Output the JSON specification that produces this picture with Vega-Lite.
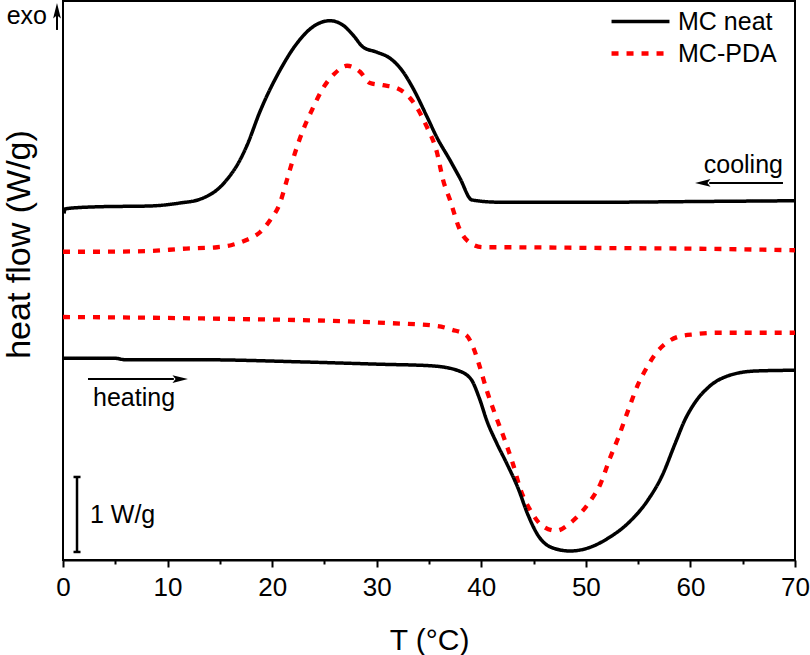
{
  "$schema": "https://vega.github.io/schema/vega-lite/v6.json",
  "width": 732,
  "height": 559,
  "autosize": {"type": "none"},
  "padding": {"left": 63, "top": 1, "right": 15, "bottom": 95},
  "background": "white",
  "config": {
    "font": "Liberation Sans",
    "view": {"stroke": "black", "strokeWidth": 2}
  },
  "datasets": {
    "curves": [
      {"sample": "MC neat", "run": "cool", "T": 0.1, "hf": 4.62},
      {"sample": "MC neat", "run": "cool", "T": 0.19, "hf": 4.68},
      {"sample": "MC neat", "run": "cool", "T": 0.67, "hf": 4.69},
      {"sample": "MC neat", "run": "cool", "T": 3.54, "hf": 4.71},
      {"sample": "MC neat", "run": "cool", "T": 8.32, "hf": 4.72},
      {"sample": "MC neat", "run": "cool", "T": 11.19, "hf": 4.76},
      {"sample": "MC neat", "run": "cool", "T": 13.1, "hf": 4.81},
      {"sample": "MC neat", "run": "cool", "T": 15.01, "hf": 4.97},
      {"sample": "MC neat", "run": "cool", "T": 15.95, "hf": 5.12},
      {"sample": "MC neat", "run": "cool", "T": 16.8, "hf": 5.3},
      {"sample": "MC neat", "run": "cool", "T": 17.6, "hf": 5.53},
      {"sample": "MC neat", "run": "cool", "T": 18.84, "hf": 5.98},
      {"sample": "MC neat", "run": "cool", "T": 20.75, "hf": 6.53},
      {"sample": "MC neat", "run": "cool", "T": 22.38, "hf": 6.89},
      {"sample": "MC neat", "run": "cool", "T": 23.91, "hf": 7.11},
      {"sample": "MC neat", "run": "cool", "T": 25.53, "hf": 7.19},
      {"sample": "MC neat", "run": "cool", "T": 26.78, "hf": 7.13},
      {"sample": "MC neat", "run": "cool", "T": 27.73, "hf": 7.0},
      {"sample": "MC neat", "run": "cool", "T": 28.69, "hf": 6.84},
      {"sample": "MC neat", "run": "cool", "T": 30.03, "hf": 6.77},
      {"sample": "MC neat", "run": "cool", "T": 31.27, "hf": 6.69},
      {"sample": "MC neat", "run": "cool", "T": 32.51, "hf": 6.51},
      {"sample": "MC neat", "run": "cool", "T": 33.47, "hf": 6.29},
      {"sample": "MC neat", "run": "cool", "T": 34.81, "hf": 5.91},
      {"sample": "MC neat", "run": "cool", "T": 35.77, "hf": 5.63},
      {"sample": "MC neat", "run": "cool", "T": 37.01, "hf": 5.33},
      {"sample": "MC neat", "run": "cool", "T": 37.96, "hf": 5.09},
      {"sample": "MC neat", "run": "cool", "T": 39.11, "hf": 4.8},
      {"sample": "MC neat", "run": "cool", "T": 41.79, "hf": 4.77},
      {"sample": "MC neat", "run": "cool", "T": 51.35, "hf": 4.77},
      {"sample": "MC neat", "run": "cool", "T": 60.92, "hf": 4.78},
      {"sample": "MC neat", "run": "cool", "T": 70, "hf": 4.79},

      {"sample": "MC-PDA", "run": "cool", "T": 0, "hf": 4.11},
      {"sample": "MC-PDA", "run": "cool", "T": 3.54, "hf": 4.11},
      {"sample": "MC-PDA", "run": "cool", "T": 8.32, "hf": 4.12},
      {"sample": "MC-PDA", "run": "cool", "T": 11.48, "hf": 4.15},
      {"sample": "MC-PDA", "run": "cool", "T": 14.73, "hf": 4.17},
      {"sample": "MC-PDA", "run": "cool", "T": 16.16, "hf": 4.2},
      {"sample": "MC-PDA", "run": "cool", "T": 17.6, "hf": 4.27},
      {"sample": "MC-PDA", "run": "cool", "T": 18.84, "hf": 4.37},
      {"sample": "MC-PDA", "run": "cool", "T": 19.8, "hf": 4.53},
      {"sample": "MC-PDA", "run": "cool", "T": 20.75, "hf": 4.76},
      {"sample": "MC-PDA", "run": "cool", "T": 21.42, "hf": 5.07},
      {"sample": "MC-PDA", "run": "cool", "T": 22.19, "hf": 5.43},
      {"sample": "MC-PDA", "run": "cool", "T": 22.95, "hf": 5.73},
      {"sample": "MC-PDA", "run": "cool", "T": 23.81, "hf": 6.0},
      {"sample": "MC-PDA", "run": "cool", "T": 24.86, "hf": 6.29},
      {"sample": "MC-PDA", "run": "cool", "T": 26.01, "hf": 6.49},
      {"sample": "MC-PDA", "run": "cool", "T": 27.16, "hf": 6.59},
      {"sample": "MC-PDA", "run": "cool", "T": 28.4, "hf": 6.51},
      {"sample": "MC-PDA", "run": "cool", "T": 29.36, "hf": 6.36},
      {"sample": "MC-PDA", "run": "cool", "T": 30.6, "hf": 6.33},
      {"sample": "MC-PDA", "run": "cool", "T": 31.94, "hf": 6.29},
      {"sample": "MC-PDA", "run": "cool", "T": 33.18, "hf": 6.16},
      {"sample": "MC-PDA", "run": "cool", "T": 34.14, "hf": 5.96},
      {"sample": "MC-PDA", "run": "cool", "T": 34.81, "hf": 5.77},
      {"sample": "MC-PDA", "run": "cool", "T": 35.77, "hf": 5.43},
      {"sample": "MC-PDA", "run": "cool", "T": 36.34, "hf": 5.07},
      {"sample": "MC-PDA", "run": "cool", "T": 37.01, "hf": 4.8},
      {"sample": "MC-PDA", "run": "cool", "T": 37.96, "hf": 4.4},
      {"sample": "MC-PDA", "run": "cool", "T": 38.92, "hf": 4.23},
      {"sample": "MC-PDA", "run": "cool", "T": 40.16, "hf": 4.17},
      {"sample": "MC-PDA", "run": "cool", "T": 41.79, "hf": 4.17},
      {"sample": "MC-PDA", "run": "cool", "T": 51.35, "hf": 4.16},
      {"sample": "MC-PDA", "run": "cool", "T": 60.92, "hf": 4.15},
      {"sample": "MC-PDA", "run": "cool", "T": 70, "hf": 4.13},

      {"sample": "MC-PDA", "run": "heat", "T": 0, "hf": 3.24},
      {"sample": "MC-PDA", "run": "heat", "T": 8.32, "hf": 3.23},
      {"sample": "MC-PDA", "run": "heat", "T": 17.88, "hf": 3.21},
      {"sample": "MC-PDA", "run": "heat", "T": 22.19, "hf": 3.2},
      {"sample": "MC-PDA", "run": "heat", "T": 30.98, "hf": 3.16},
      {"sample": "MC-PDA", "run": "heat", "T": 35.77, "hf": 3.12},
      {"sample": "MC-PDA", "run": "heat", "T": 37.2, "hf": 3.07},
      {"sample": "MC-PDA", "run": "heat", "T": 38.54, "hf": 3.0},
      {"sample": "MC-PDA", "run": "heat", "T": 39.3, "hf": 2.81},
      {"sample": "MC-PDA", "run": "heat", "T": 39.78, "hf": 2.61},
      {"sample": "MC-PDA", "run": "heat", "T": 40.55, "hf": 2.25},
      {"sample": "MC-PDA", "run": "heat", "T": 41.41, "hf": 1.91},
      {"sample": "MC-PDA", "run": "heat", "T": 42.17, "hf": 1.63},
      {"sample": "MC-PDA", "run": "heat", "T": 43.03, "hf": 1.28},
      {"sample": "MC-PDA", "run": "heat", "T": 43.8, "hf": 0.92},
      {"sample": "MC-PDA", "run": "heat", "T": 44.75, "hf": 0.65},
      {"sample": "MC-PDA", "run": "heat", "T": 45.71, "hf": 0.47},
      {"sample": "MC-PDA", "run": "heat", "T": 47.15, "hf": 0.39},
      {"sample": "MC-PDA", "run": "heat", "T": 48.48, "hf": 0.49},
      {"sample": "MC-PDA", "run": "heat", "T": 49.54, "hf": 0.63},
      {"sample": "MC-PDA", "run": "heat", "T": 50.49, "hf": 0.8},
      {"sample": "MC-PDA", "run": "heat", "T": 51.35, "hf": 1.0},
      {"sample": "MC-PDA", "run": "heat", "T": 52.31, "hf": 1.36},
      {"sample": "MC-PDA", "run": "heat", "T": 53.07, "hf": 1.62},
      {"sample": "MC-PDA", "run": "heat", "T": 54.03, "hf": 1.99},
      {"sample": "MC-PDA", "run": "heat", "T": 54.99, "hf": 2.34},
      {"sample": "MC-PDA", "run": "heat", "T": 55.85, "hf": 2.57},
      {"sample": "MC-PDA", "run": "heat", "T": 56.61, "hf": 2.74},
      {"sample": "MC-PDA", "run": "heat", "T": 57.57, "hf": 2.88},
      {"sample": "MC-PDA", "run": "heat", "T": 58.91, "hf": 2.98},
      {"sample": "MC-PDA", "run": "heat", "T": 60.44, "hf": 3.01},
      {"sample": "MC-PDA", "run": "heat", "T": 62.45, "hf": 3.03},
      {"sample": "MC-PDA", "run": "heat", "T": 65.6, "hf": 3.03},
      {"sample": "MC-PDA", "run": "heat", "T": 70, "hf": 3.03},

      {"sample": "MC neat", "run": "heat", "T": 0, "hf": 2.69},
      {"sample": "MC neat", "run": "heat", "T": 4.97, "hf": 2.69},
      {"sample": "MC neat", "run": "heat", "T": 5.93, "hf": 2.67},
      {"sample": "MC neat", "run": "heat", "T": 13.1, "hf": 2.67},
      {"sample": "MC neat", "run": "heat", "T": 23.14, "hf": 2.64},
      {"sample": "MC neat", "run": "heat", "T": 30.31, "hf": 2.61},
      {"sample": "MC neat", "run": "heat", "T": 35.1, "hf": 2.59},
      {"sample": "MC neat", "run": "heat", "T": 37.68, "hf": 2.53},
      {"sample": "MC neat", "run": "heat", "T": 39.02, "hf": 2.41},
      {"sample": "MC neat", "run": "heat", "T": 39.78, "hf": 2.17},
      {"sample": "MC neat", "run": "heat", "T": 40.55, "hf": 1.85},
      {"sample": "MC neat", "run": "heat", "T": 41.5, "hf": 1.55},
      {"sample": "MC neat", "run": "heat", "T": 42.46, "hf": 1.28},
      {"sample": "MC neat", "run": "heat", "T": 43.51, "hf": 0.96},
      {"sample": "MC neat", "run": "heat", "T": 44.47, "hf": 0.6},
      {"sample": "MC neat", "run": "heat", "T": 45.42, "hf": 0.33},
      {"sample": "MC neat", "run": "heat", "T": 46.67, "hf": 0.17},
      {"sample": "MC neat", "run": "heat", "T": 48.48, "hf": 0.12},
      {"sample": "MC neat", "run": "heat", "T": 50.21, "hf": 0.16},
      {"sample": "MC neat", "run": "heat", "T": 52.12, "hf": 0.29},
      {"sample": "MC neat", "run": "heat", "T": 54.03, "hf": 0.49},
      {"sample": "MC neat", "run": "heat", "T": 55.94, "hf": 0.8},
      {"sample": "MC neat", "run": "heat", "T": 57.28, "hf": 1.12},
      {"sample": "MC neat", "run": "heat", "T": 58.53, "hf": 1.55},
      {"sample": "MC neat", "run": "heat", "T": 59.48, "hf": 1.87},
      {"sample": "MC neat", "run": "heat", "T": 60.44, "hf": 2.1},
      {"sample": "MC neat", "run": "heat", "T": 61.78, "hf": 2.31},
      {"sample": "MC neat", "run": "heat", "T": 63.69, "hf": 2.46},
      {"sample": "MC neat", "run": "heat", "T": 66.27, "hf": 2.52},
      {"sample": "MC neat", "run": "heat", "T": 70, "hf": 2.53}
    ],
    "rightText": [
      {"label": "exo", "T": -1.53, "hf": 7.147},
      {"label": "cooling", "T": 68.85, "hf": 5.16}
    ],
    "leftText": [
      {"label": "heating", "T": 2.87, "hf": 2.053},
      {"label": "1 W/g", "T": 2.58, "hf": 0.493}
    ],
    "arrows": [
      {"dir": "up", "T1": -0.574, "T2": -0.574, "h1": 7.067, "h2": 7.3, "Tt": -0.574, "ht": 7.427},
      {"dir": "left", "T1": 68.85, "T2": 61.8, "h1": 5.027, "h2": 5.027, "Tt": 60.44, "ht": 5.027},
      {"dir": "right", "T1": 2.39, "T2": 10.6, "h1": 2.413, "h2": 2.413, "Tt": 11.95, "ht": 2.413}
    ],
    "scalebar": [
      {"T": 1.34, "lo": 0.107, "hi": 1.107}
    ]
  },
  "layer": [
    {
      "data": {"name": "curves"},
      "mark": {"type": "line", "interpolate": "monotone"},
      "encoding": {
        "x": {
          "field": "T", "type": "quantitative",
          "scale": {"domain": [0, 70], "nice": false},
          "axis": {
            "values": [0, 5, 10, 15, 20, 25, 30, 35, 40, 45, 50, 55, 60, 65, 70],
            "labelExpr": "datum.value % 10 === 0 ? datum.label : ''",
            "title": "T (°C)",
            "titleFontSize": 30, "titleFontWeight": "normal", "titleColor": "black",
            "titleY": 89, "titleBaseline": "alphabetic",
            "labelFontSize": 26, "labelColor": "black", "labelPadding": 7,
            "labelFlush": false, "labelOverlap": false,
            "tickSize": {"condition": {"test": "datum.value % 10 === 0", "value": 7}, "value": 4},
            "tickWidth": 2, "tickColor": "black",
            "domainColor": "black", "domainWidth": 2, "grid": false
          }
        },
        "y": {
          "field": "hf", "type": "quantitative",
          "scale": {"domain": [0, 7.453], "nice": false, "zero": false},
          "axis": {
            "title": "heat flow (W/g)", "labels": false, "ticks": false, "domain": false, "grid": false,
            "titleFontSize": 34, "titleFontWeight": "normal", "titleColor": "black",
            "titleX": -44, "titleY": 243, "titleAngle": -90,
            "titleBaseline": "middle", "titleAlign": "center"
          }
        },
        "detail": {"field": "run"},
        "strokeWidth": {
          "field": "sample", "type": "ordinal",
          "scale": {"domain": ["MC neat", "MC-PDA"], "range": [3.5, 4.3]},
          "legend": null
        },
        "color": {
          "field": "sample", "type": "nominal",
          "scale": {"domain": ["MC neat", "MC-PDA"], "range": ["#000000", "#ff0000"]},
          "legend": {
            "orient": "none", "legendX": 565, "legendY": 8, "title": null,
            "labelFontSize": 25, "labelColor": "black", "labelFont": "Liberation Sans",
            "symbolType": "M-3,0L3,0", "symbolSize": 373, "symbolStrokeWidth": 3.8,
            "labelOffset": 25, "rowPadding": 6, "padding": 0
          }
        },
        "strokeDash": {
          "field": "sample", "type": "nominal",
          "scale": {"domain": ["MC neat", "MC-PDA"], "range": [[1, 0], [7, 8]]},
          "legend": {
            "orient": "none", "legendX": 565, "legendY": 8, "title": null,
            "labelFontSize": 25, "labelColor": "black", "labelFont": "Liberation Sans",
            "symbolType": "M-3,0L3,0", "symbolSize": 373, "symbolStrokeWidth": 3.8,
            "labelOffset": 25, "rowPadding": 6, "padding": 0
          }
        }
      }
    },
    {
      "data": {"name": "rightText"},
      "mark": {"type": "text", "align": "right", "baseline": "alphabetic", "fontSize": 25, "color": "black"},
      "encoding": {
        "x": {"field": "T", "type": "quantitative"},
        "y": {"field": "hf", "type": "quantitative"},
        "text": {"field": "label"}
      }
    },
    {
      "data": {"name": "leftText"},
      "mark": {"type": "text", "align": "left", "baseline": "alphabetic", "fontSize": 25, "color": "black"},
      "encoding": {
        "x": {"field": "T", "type": "quantitative"},
        "y": {"field": "hf", "type": "quantitative"},
        "text": {"field": "label"}
      }
    },
    {
      "data": {"name": "arrows"},
      "mark": {"type": "rule", "strokeWidth": 2, "color": "black"},
      "encoding": {
        "x": {"field": "T1", "type": "quantitative"},
        "x2": {"field": "T2"},
        "y": {"field": "h1", "type": "quantitative"},
        "y2": {"field": "h2"}
      }
    },
    {
      "data": {"name": "arrows"},
      "mark": {"type": "point", "filled": true, "color": "black", "size": 240, "opacity": 1},
      "encoding": {
        "x": {"field": "Tt", "type": "quantitative"},
        "y": {"field": "ht", "type": "quantitative"},
        "shape": {
          "field": "dir", "type": "nominal",
          "scale": {
            "domain": ["left", "right", "up"],
            "range": ["M0,0L2,-0.5L1.6,0L2,0.5Z", "M0,0L-2,-0.5L-1.6,0L-2,0.5Z", "M0,0L-0.5,2L0,1.6L0.5,2Z"]
          },
          "legend": null
        }
      }
    },
    {
      "data": {"name": "scalebar"},
      "mark": {"type": "rule", "strokeWidth": 2.5, "color": "black"},
      "encoding": {
        "x": {"field": "T", "type": "quantitative"},
        "y": {"field": "lo", "type": "quantitative"},
        "y2": {"field": "hi"}
      }
    },
    {
      "data": {"name": "scalebar"},
      "mark": {"type": "point", "shape": "stroke", "filled": false, "color": "black", "strokeWidth": 2.5, "size": 49, "opacity": 1},
      "encoding": {
        "x": {"field": "T", "type": "quantitative"},
        "y": {"field": "lo", "type": "quantitative"}
      }
    },
    {
      "data": {"name": "scalebar"},
      "mark": {"type": "point", "shape": "stroke", "filled": false, "color": "black", "strokeWidth": 2.5, "size": 49, "opacity": 1},
      "encoding": {
        "x": {"field": "T", "type": "quantitative"},
        "y": {"field": "hi", "type": "quantitative"}
      }
    }
  ]
}
